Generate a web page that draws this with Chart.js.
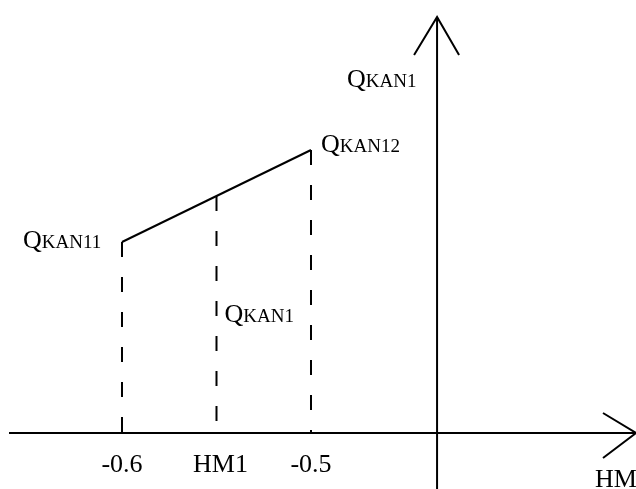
<!DOCTYPE html>
<html>
<head>
<meta charset="utf-8">
<script src="https://cdn.jsdelivr.net/npm/chart.js@4"></script>
<style>
  html, body { margin: 0; padding: 0; background: #fff; }
  #wrap { width: 636px; height: 489px; }
</style>
</head>
<body>
<div id="wrap"><canvas id="c" width="636" height="489"></canvas></div>
<script>
// ---- data (schematic diagram) ----
const tickLabels = ['-0.6', 'HM1', '-0.5'];
const hmValues = [-0.6, -0.55, -0.5];          // HM positions of the three verticals
const qValues = [1.91, 2.37, 2.83];            // Q_KAN11, Q_KAN1, Q_KAN12
const qSubscripts = ['KAN11', 'KAN1', 'KAN12'];
const axisSubscript = 'KAN1';
const xAxisTitle = 'HM';
const yAxisAtHM = -0.4333;                     // schematic position of the Q axis

const INK = '#000';
const BIG = '26px "Liberation Serif", "Times New Roman", serif';
const SMALL = '19px "Liberation Serif", "Times New Roman", serif';

function drawQ(ctx, sub, x, y) {
  ctx.textBaseline = 'alphabetic';
  ctx.textAlign = 'left';
  ctx.fillStyle = INK;
  ctx.font = BIG;
  ctx.fillText('Q', x, y);
  const w = ctx.measureText('Q').width;
  ctx.font = SMALL;
  ctx.fillText(sub, x + w, y);
}

const diagramPlugin = {
  id: 'diagram',
  beforeDatasetsDraw(chart) {
    const ctx = chart.ctx;
    const xs = chart.scales.x, ys = chart.scales.y;
    const area = chart.chartArea;
    const y0 = ys.getPixelForValue(0);
    const xA = xs.getPixelForValue(yAxisAtHM);
    ctx.save();
    ctx.strokeStyle = INK;
    ctx.lineWidth = 2;
    ctx.lineCap = 'butt';
    // horizontal axis
    ctx.beginPath();
    ctx.moveTo(area.left + 9, y0);
    ctx.lineTo(area.right, y0);
    ctx.stroke();
    // arrow on horizontal axis
    ctx.beginPath();
    ctx.moveTo(area.right - 33, y0 - 20);
    ctx.lineTo(area.right, y0);
    ctx.lineTo(area.right - 33, y0 + 25);
    ctx.stroke();
    // vertical axis
    ctx.beginPath();
    ctx.moveTo(xA, area.bottom);
    ctx.lineTo(xA, 17);
    ctx.stroke();
    // arrow on vertical axis
    ctx.beginPath();
    ctx.moveTo(xA - 23, 55);
    ctx.lineTo(xA, 17);
    ctx.lineTo(xA + 22, 55);
    ctx.stroke();
    ctx.restore();
  },
  afterDatasetsDraw(chart) {
    const ctx = chart.ctx;
    const xs = chart.scales.x, ys = chart.scales.y;
    const y0 = ys.getPixelForValue(0);
    const xA = xs.getPixelForValue(yAxisAtHM);
    ctx.save();
    // tick labels under horizontal axis
    ctx.fillStyle = INK;
    ctx.font = BIG;
    ctx.textAlign = 'center';
    ctx.textBaseline = 'alphabetic';
    const tickShift = [0, 4, 0];
    tickLabels.forEach((t, i) => {
      ctx.fillText(t, xs.getPixelForValue(hmValues[i]) + tickShift[i], y0 + 39);
    });
    // axis titles
    ctx.textAlign = 'left';
    ctx.fillText(xAxisTitle, 595, y0 + 54);
    drawQ(ctx, axisSubscript, xA - 90, 87);
    // point labels
    const p0x = xs.getPixelForValue(hmValues[0]), p0y = ys.getPixelForValue(qValues[0]);
    const p1x = xs.getPixelForValue(hmValues[1]);
    const p2x = xs.getPixelForValue(hmValues[2]), p2y = ys.getPixelForValue(qValues[2]);
    drawQ(ctx, qSubscripts[0], p0x - 99, p0y + 6);
    drawQ(ctx, qSubscripts[1], p1x + 8, y0 - 111);
    drawQ(ctx, qSubscripts[2], p2x + 10, p2y + 2);
    ctx.restore();
  }
};

const dashDatasets = hmValues.map((h, i) => ({
  data: [{ x: h, y: qValues[i] }, { x: h, y: 0 }],
  borderColor: INK,
  borderWidth: 2,
  borderDash: [15, 20],
  pointRadius: 0,
  fill: false,
  tension: 0
}));

new Chart(document.getElementById('c'), {
  type: 'line',
  data: {
    datasets: [
      {
        data: hmValues.map((h, i) => ({ x: h, y: qValues[i] })),
        borderColor: INK,
        borderWidth: 2,
        pointRadius: 0,
        fill: false,
        tension: 0
      },
      ...dashDatasets
    ]
  },
  options: {
    responsive: false,
    animation: false,
    layout: { padding: 0 },
    plugins: { legend: { display: false }, tooltip: { enabled: false }, title: { display: false } },
    scales: {
      x: { type: 'linear', min: -0.66455, max: -0.32804, display: false },
      y: { type: 'linear', min: -0.56, max: 4.33, display: false }
    }
  },
  plugins: [diagramPlugin]
});
</script>
</body>
</html>
